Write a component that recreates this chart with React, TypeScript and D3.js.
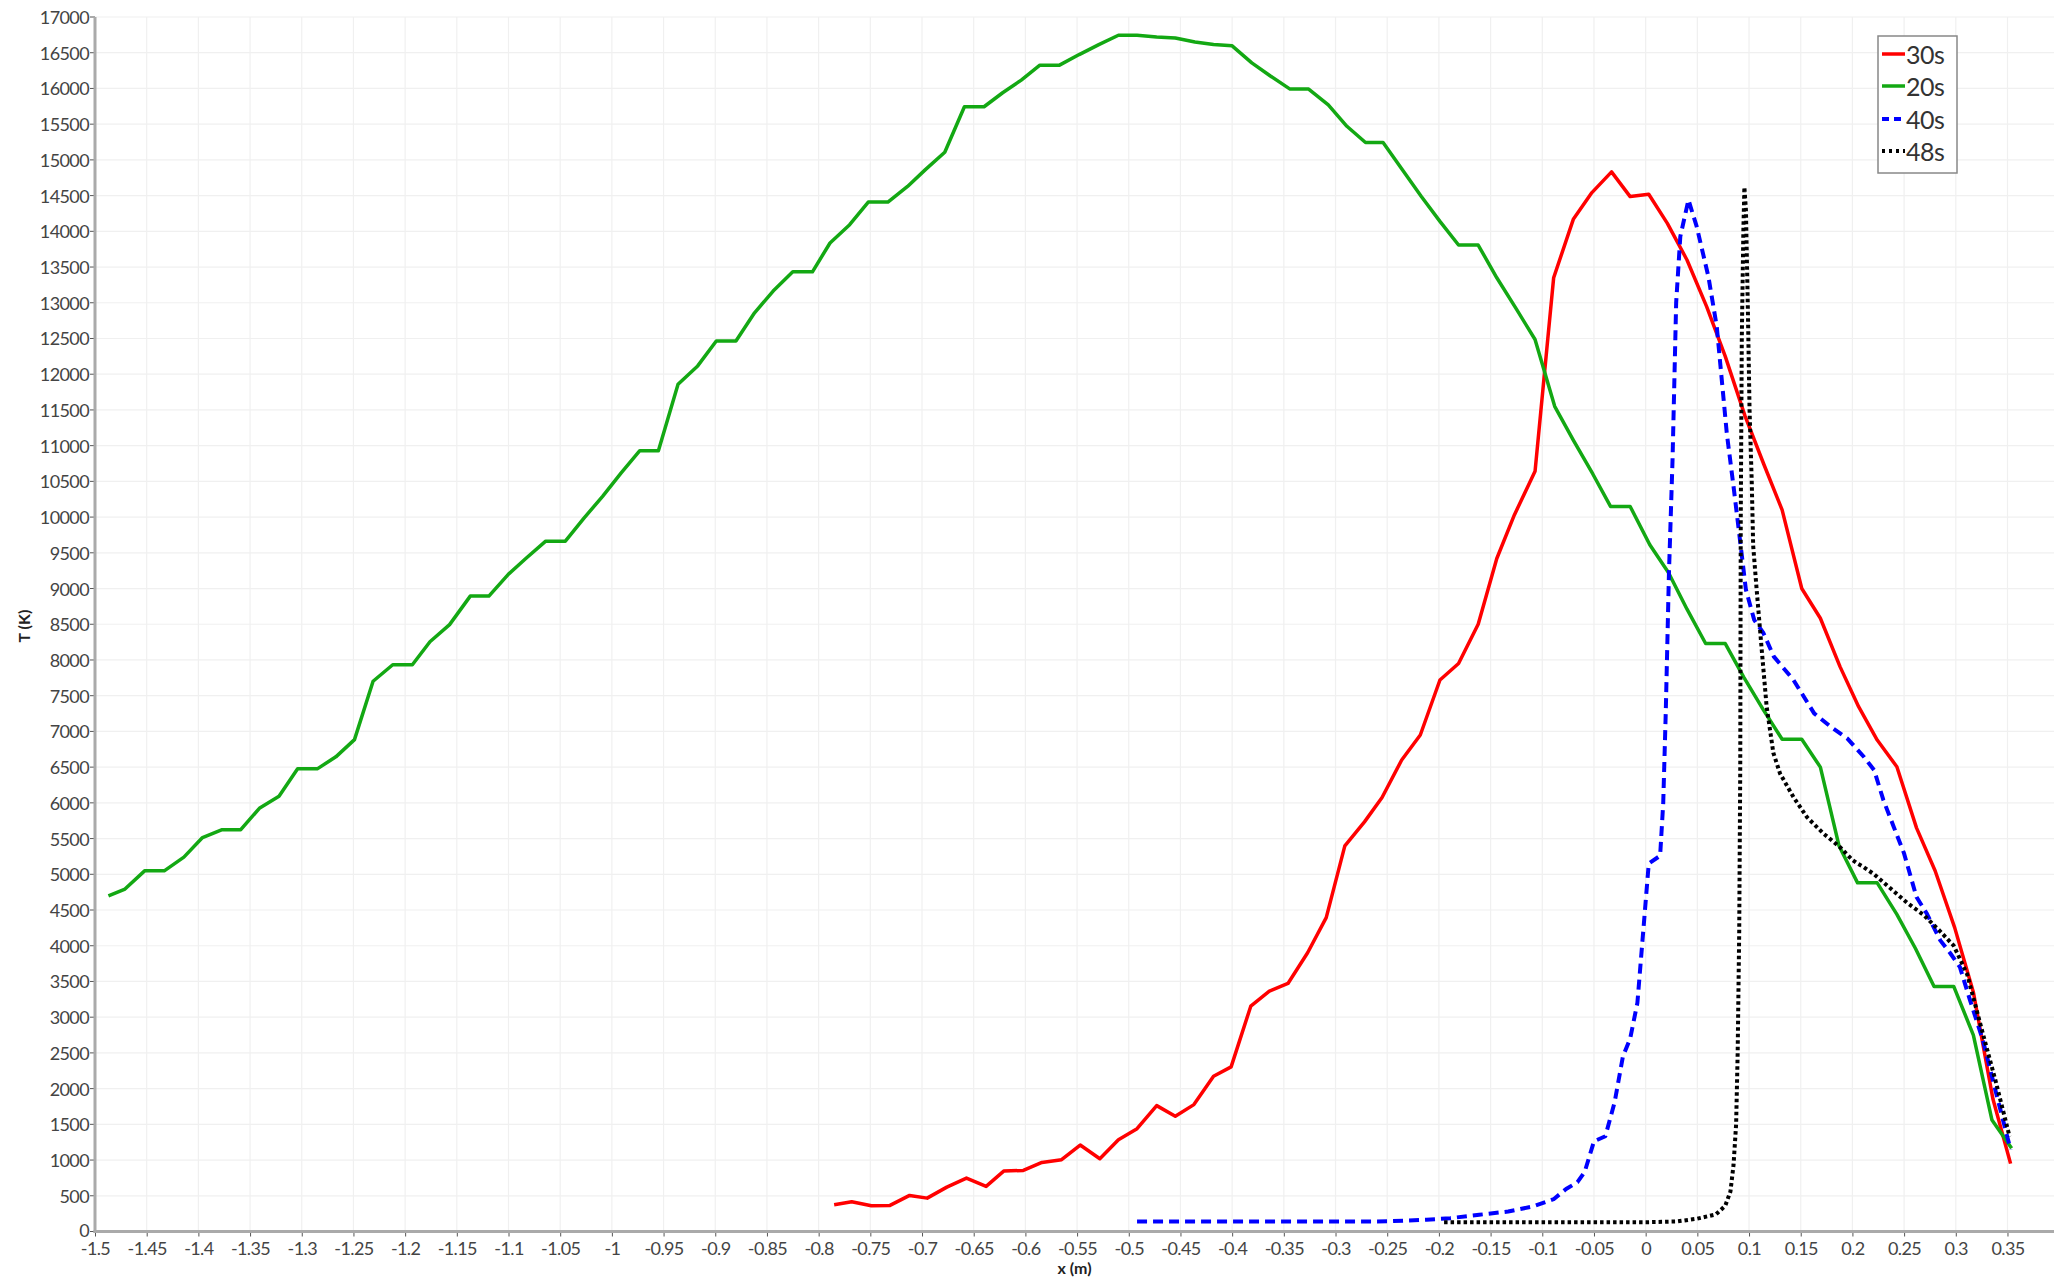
import * as d3 from 'd3';
import { useEffect, useRef } from 'react';

// 30s profile
const x30 = [-0.785, -0.768, -0.749, -0.731, -0.712, -0.695, -0.676, -0.657, -0.638, -0.621, -0.602, -0.584, -0.565, -0.547, -0.528, -0.51, -0.492, -0.473, -0.455, -0.437, -0.418, -0.401, -0.382, -0.364, -0.346, -0.327, -0.309, -0.291, -0.272, -0.255, -0.236, -0.218, -0.199, -0.181, -0.162, -0.144, -0.127, -0.107, -0.089, -0.07, -0.052, -0.033, -0.015, 0.003, 0.021, 0.04, 0.059, 0.077, 0.096, 0.114, 0.132, 0.151, 0.169, 0.188, 0.206, 0.224, 0.243, 0.262, 0.28, 0.299, 0.317, 0.336, 0.353];
const t30 = [374, 416, 360, 365, 505, 467, 621, 748, 631, 846, 855, 967, 1005, 1210, 1019, 1285, 1439, 1762, 1612, 1776, 2173, 2304, 3154, 3364, 3472, 3902, 4393, 5397, 5734, 6075, 6600, 6950, 7720, 7950, 8500, 9420, 10030, 10640, 13350, 14168, 14542, 14832, 14486, 14519, 14112, 13599, 12945, 12250, 11420, 10750, 10100, 9000, 8584, 7907, 7346, 6879, 6505, 5650, 5050, 4250, 3350, 1850, 950];

// 20s profile
const x20 = [-1.487, -1.471, -1.452, -1.433, -1.414, -1.396, -1.377, -1.359, -1.341, -1.322, -1.304, -1.285, -1.267, -1.249, -1.231, -1.212, -1.193, -1.176, -1.157, -1.137, -1.119, -1.1, -1.083, -1.064, -1.045, -1.027, -1.009, -0.991, -0.973, -0.955, -0.936, -0.917, -0.899, -0.88, -0.862, -0.844, -0.825, -0.806, -0.789, -0.77, -0.752, -0.733, -0.714, -0.697, -0.678, -0.659, -0.64, -0.622, -0.604, -0.586, -0.567, -0.548, -0.529, -0.51, -0.492, -0.473, -0.455, -0.436, -0.418, -0.4, -0.381, -0.363, -0.344, -0.326, -0.307, -0.289, -0.271, -0.254, -0.235, -0.217, -0.199, -0.181, -0.162, -0.144, -0.125, -0.107, -0.088, -0.07, -0.051, -0.034, -0.015, 0.004, 0.022, 0.04, 0.058, 0.077, 0.095, 0.114, 0.132, 0.151, 0.169, 0.187, 0.205, 0.224, 0.243, 0.261, 0.279, 0.298, 0.317, 0.335, 0.354];
const t20 = [4697, 4793, 5048, 5048, 5240, 5514, 5625, 5625, 5923, 6091, 6476, 6476, 6644, 6885, 7702, 7933, 7933, 8255, 8495, 8894, 8894, 9202, 9423, 9663, 9663, 9986, 10290, 10618, 10930, 10930, 11860, 12116, 12465, 12465, 12860, 13163, 13433, 13433, 13837, 14093, 14409, 14409, 14628, 14860, 15107, 15744, 15744, 15940, 16116, 16326, 16326, 16474, 16614, 16744, 16744, 16721, 16706, 16651, 16615, 16596, 16358, 16174, 15991, 15991, 15771, 15470, 15243, 15243, 14854, 14488, 14139, 13808, 13808, 13350, 12910, 12486, 11551, 11077, 10600, 10149, 10149, 9612, 9224, 8711, 8230, 8230, 7757, 7299, 6890, 6890, 6500, 5400, 4880, 4880, 4438, 3961, 3430, 3430, 2750, 1560, 1165];

// 40s profile
const x40 = [-0.492, -0.45, -0.4, -0.35, -0.3, -0.25, -0.212, -0.189, -0.161, -0.133, -0.109, -0.089, -0.077, -0.066, -0.059, -0.05, -0.039, -0.03, -0.022, -0.015, -0.008, 0.003, 0.014, 0.017, 0.0195, 0.0225, 0.026, 0.0295, 0.0335, 0.0414, 0.0494, 0.0607, 0.0688, 0.0785, 0.085, 0.092, 0.097, 0.105, 0.114, 0.124, 0.143, 0.163, 0.179, 0.195, 0.211, 0.221, 0.23, 0.24, 0.25, 0.262, 0.272, 0.285, 0.295, 0.304, 0.3135, 0.326, 0.339, 0.353];
const t40 = [140, 140, 140, 140, 140, 142, 164, 187, 234, 280, 350, 452, 595, 690, 833, 1262, 1333, 1810, 2450, 2700, 3200, 5150, 5260, 6000, 7300, 9200, 10800, 13000, 13925, 14440, 14065, 13365, 12665, 11171, 10430, 9589, 8981, 8561, 8374, 8047, 7720, 7252, 7065, 6902, 6645, 6458, 6037, 5663, 5290, 4682, 4449, 4075, 3888, 3700, 3250, 2687, 1939, 1145];

// 48s profile
const x48 = [-0.195, -0.15, -0.1, -0.05, 0, 0.03, 0.05, 0.068, 0.077, 0.082, 0.085, 0.0875, 0.089, 0.0905, 0.0915, 0.092, 0.093, 0.0945, 0.0955, 0.097, 0.099, 0.1005, 0.1026, 0.104, 0.1074, 0.112, 0.117, 0.1235, 0.13, 0.143, 0.156, 0.172, 0.188, 0.2, 0.205, 0.211, 0.221, 0.237, 0.253, 0.269, 0.285, 0.298, 0.311, 0.326, 0.339, 0.352];
const t48 = [130, 130, 130, 130, 130, 140, 180, 240, 360, 560, 930, 1500, 2500, 4200, 6500, 10000, 12500, 14000, 14620, 14300, 12800, 11500, 10500, 9600, 8980, 8190, 7350, 6700, 6410, 6080, 5800, 5570, 5380, 5200, 5150, 5100, 5000, 4800, 4600, 4430, 4200, 4000, 3600, 2780, 2080, 1330];

const seriesNames = ['30s', '20s', '40s', '48s'];
const seriesColors = ['#ff0000', '#13a813', '#0000ff', '#000000'];
const yTicks = d3.range(0, 35).map((i) => i * 500);
const xTickLabels = ['-1.5', '-1.45', '-1.4', '-1.35', '-1.3', '-1.25', '-1.2', '-1.15', '-1.1', '-1.05', '-1', '-0.95', '-0.9', '-0.85', '-0.8', '-0.75', '-0.7', '-0.65', '-0.6', '-0.55', '-0.5', '-0.45', '-0.4', '-0.35', '-0.3', '-0.25', '-0.2', '-0.15', '-0.1', '-0.05', '0', '0.05', '0.1', '0.15', '0.2', '0.25', '0.3', '0.35'];

const W = 2054;
const H = 1277;
const font = 'Lato, "DejaVu Sans", sans-serif';

const x = d3.scaleLinear().domain([-1.5, 0.395]).range([95, W]);
const y = d3.scaleLinear().domain([0, 17000]).range([1231.5, 17]);

const App = () => {
  const xAxisRef = useRef<SVGGElement | null>(null);

  useEffect(() => {
    const g = d3.select(xAxisRef.current);
    g.selectAll('*').remove();
    const axis = d3.axisBottom(x)
      .tickValues(xTickLabels.map((l) => +l))
      .tickFormat((_, i) => xTickLabels[i])
      .tickSize(5)
      .tickPadding(6);
    g.call(axis);
    g.select('.domain').remove();
    g.selectAll('.tick line').attr('stroke', '#555');
    g.selectAll('.tick text')
      .attr('fill', '#444')
      .attr('font-family', font)
      .attr('font-size', 18)
      .attr('letter-spacing', -0.6);
  }, []);

  const line = d3.line<[number, number]>()
    .x((d) => x(d[0]))
    .y((d) => y(d[1]));

  const series = [
    { pts: x30.map((v, i) => [v, t30[i]] as [number, number]), width: 3.5, dash: undefined },
    { pts: x20.map((v, i) => [v, t20[i]] as [number, number]), width: 3.5, dash: undefined },
    { pts: x40.map((v, i) => [v, t40[i]] as [number, number]), width: 4, dash: '10,6' },
    { pts: x48.map((v, i) => [v, t48[i]] as [number, number]), width: 4, dash: '3.5,3' },
  ];

  const legendRows = [54, 86, 119, 151];

  return (
    <svg width={W} height={H} style={{ position: 'absolute', left: 0, top: 0, background: '#fff' }}>
      {/* grid */}
      <g stroke="#f0f0f0" strokeWidth={1.2}>
        {yTicks.map((t) => (
          <line key={'gy' + t} x1={x(-1.5)} x2={W} y1={y(t)} y2={y(t)} />
        ))}
        {xTickLabels.map((lab) => (
          <line key={'gx' + lab} x1={x(+lab)} x2={x(+lab)} y1={y(17000)} y2={y(0)} />
        ))}
      </g>

      {/* y axis */}
      <g fontFamily={font} fontSize={18} fill="#444" letterSpacing={-0.6}>
        {yTicks.map((t) => (
          <g key={'ty' + t}>
            <line x1={x(-1.5) - 5} x2={x(-1.5)} y1={y(t)} y2={y(t)} stroke="#555" strokeWidth={1} />
            <text x={x(-1.5) - 6} y={y(t) - (t === 0 ? 2 : 0)} textAnchor="end" dominantBaseline="central">{t}</text>
          </g>
        ))}
      </g>
      {/* x axis */}
      <g ref={xAxisRef} transform={`translate(0, ${y(0)})`} />
      <line x1={x(-1.5)} x2={x(-1.5)} y1={y(17000)} y2={y(0) + 1.5} stroke="#aaa" strokeWidth={3} />
      <line x1={x(-1.5) - 1.5} x2={W} y1={y(0)} y2={y(0)} stroke="#aaa" strokeWidth={3} />

      <text x={(x(-1.5) + W) / 2} y={1267} textAnchor="middle" dominantBaseline="central"
        fontFamily={font} fontSize={16} fontWeight="bold" fill="#222">x (m)</text>
      <text transform={`translate(23, 626) rotate(-90)`} textAnchor="middle" dominantBaseline="central"
        fontFamily={font} fontSize={16} fontWeight="bold" fill="#222">T (K)</text>

      {/* curves */}
      {series.map((s, i) => (
        <path key={seriesNames[i]} d={line(s.pts) || ''} fill="none" stroke={seriesColors[i]}
          strokeWidth={s.width} strokeDasharray={s.dash} strokeLinejoin="round" />
      ))}

      {/* legend */}
      <rect x={1878} y={36} width={79} height={137} fill="#fff" stroke="#888" strokeWidth={1.5} />
      {series.map((s, i) => (
        <g key={'lg' + i}>
          <line x1={1882} x2={1905} y1={legendRows[i]} y2={legendRows[i]} stroke={seriesColors[i]}
            strokeWidth={s.width} strokeDasharray={s.dash ? (i === 2 ? '7,5' : '3,4') : undefined} />
          <text x={1906} y={legendRows[i]} dominantBaseline="central" fontFamily={font} fontSize={25}
            fill="#333" letterSpacing={-0.5}>{seriesNames[i]}</text>
        </g>
      ))}
    </svg>
  );
};

export default App;
